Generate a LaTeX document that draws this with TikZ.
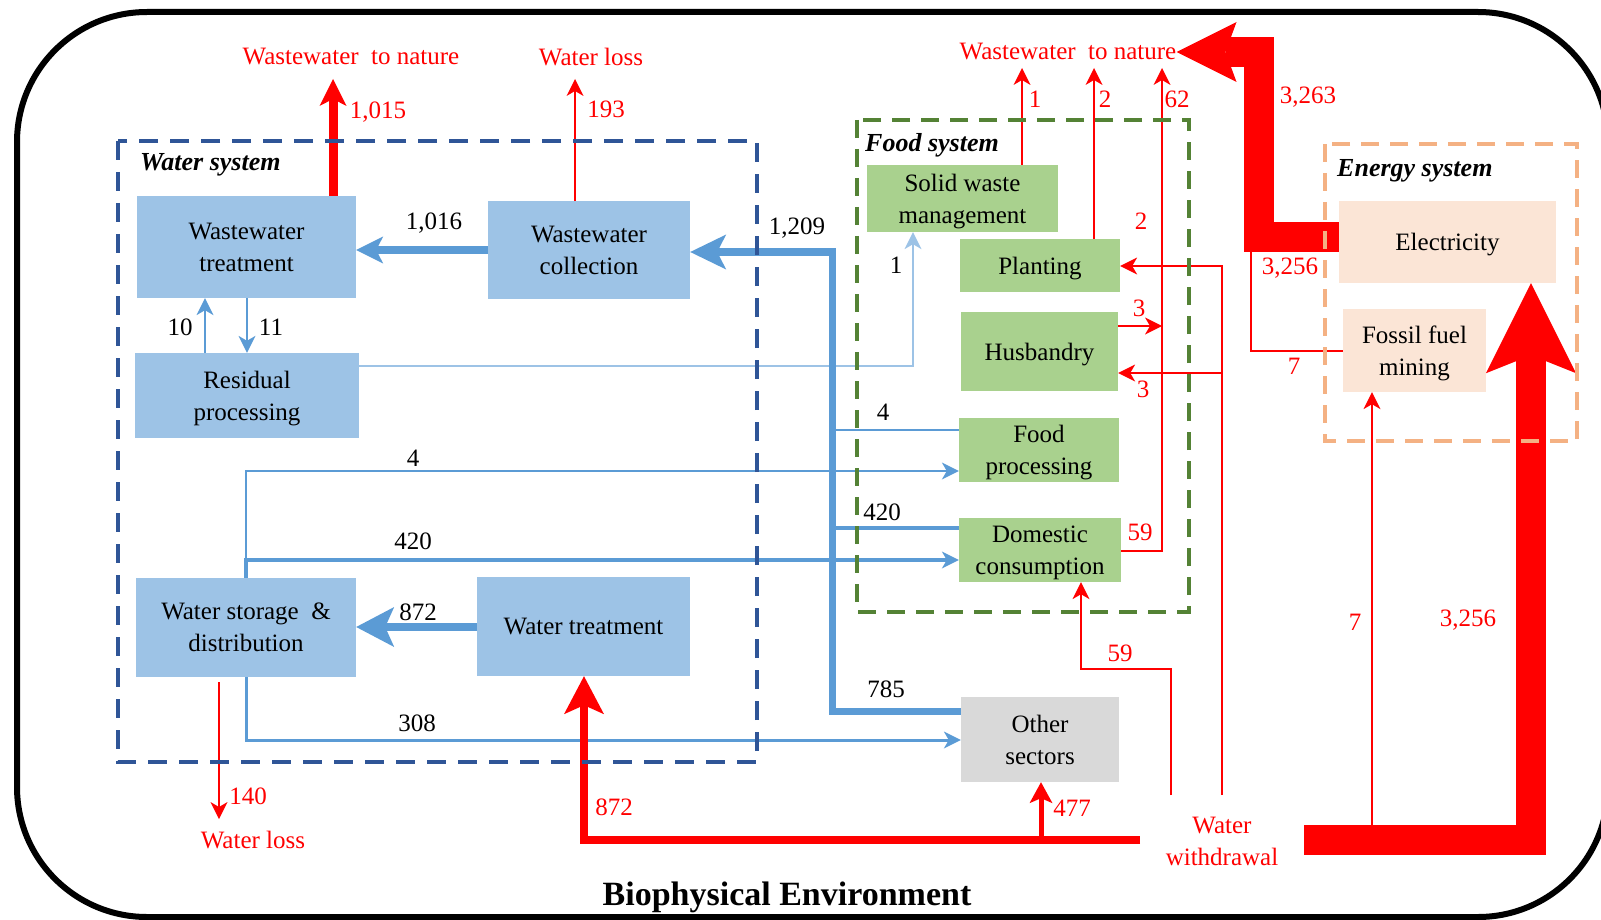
\documentclass[tikz,border=0pt]{standalone}
\usepackage{fontspec}
\setmainfont{Liberation Serif}
\usetikzlibrary{arrows.meta}

\definecolor{wbox}{HTML}{9DC3E6}
\definecolor{wline}{HTML}{5B9BD5}
\definecolor{wlight}{HTML}{9DC3E6}
\definecolor{fbox}{HTML}{A9D18E}
\definecolor{fdash}{HTML}{548235}
\definecolor{ebox}{HTML}{FBE5D6}
\definecolor{edash}{HTML}{F4B183}
\definecolor{obox}{HTML}{D9D9D9}
\definecolor{wdash}{HTML}{2F5597}
\definecolor{flowred}{HTML}{FF0000}

\newcommand\bodyfs{\fontsize{25}{32}\selectfont}
\newcommand\headfs{\fontsize{26}{30}\selectfont\bfseries\itshape}
\newcommand\titlefs{\fontsize{34}{40}\selectfont\bfseries}

\tikzset{
  box/.style={inner sep=0pt, align=center, font=\bodyfs, text=black, text depth=0pt},
  twoline/.style={text depth=-5pt},
  wbx/.style={box, fill=wbox},
  fbx/.style={box, fill=fbox},
  ebx/.style={box, fill=ebox},
  obx/.style={box, fill=obox},
  num/.style={inner sep=0pt, font=\bodyfs, text=black},
  rnum/.style={inner sep=0pt, font=\bodyfs, text=flowred},
  syshead/.style={inner sep=0pt, font=\headfs, anchor=base west},
  flow/.style={line join=miter, line cap=butt},
  bthin/.style={flow, draw=wline, line width=1.5pt},
  blight/.style={flow, draw=wlight, line width=1.6pt},
  bmid/.style={flow, draw=wline, line width=4pt},
  bmidb/.style={flow, draw=wline, line width=3pt},
  bthick/.style={flow, draw=wline, line width=7pt},
  bthicker/.style={flow, draw=wline, line width=8pt},
  rthin/.style={flow, draw=flowred, line width=1.3pt},
  rfive/.style={flow, draw=flowred, line width=5pt},
  reight/.style={flow, draw=flowred, line width=8pt},
  rnine/.style={flow, draw=flowred, line width=9pt},
  rwide/.style={flow, draw=flowred, line width=30pt},
  tipS/.style={-{Stealth[length=17pt,width=17pt,inset=5pt,line width=0pt]}},
  tipA/.style={-{Stealth[length=27pt,width=27pt,inset=7pt,line width=0pt]}},
  tipB/.style={-{Stealth[length=36pt,width=35pt,inset=9pt,line width=0pt]}},
  tipC/.style={-{Stealth[length=38pt,width=40pt,inset=9pt,line width=0pt]}},
  tipD/.style={-{Stealth[length=21pt,width=23pt,inset=5pt,line width=0pt]}},
  tipE/.style={-{Stealth[length=60pt,width=60pt,inset=11pt,line width=0pt]}},
  tipF/.style={-{Stealth[length=90pt,width=90pt,inset=18pt,line width=0pt]}},
  sysbox/.style={line width=3.5pt, dash pattern=on 19pt off 12pt},
}

\begin{document}
\begin{tikzpicture}[x=1pt,y=-1pt]
\useasboundingbox (0,0) rectangle (1601,920);

% ---------- process boxes ----------
\node[wbx, twoline, minimum width=219pt, minimum height=102pt] (wwt) at (246.5,247) {Wastewater\\treatment};
\node[wbx, twoline, minimum width=202pt, minimum height=98pt] (wwc) at (589,250) {Wastewater\\collection};
\node[wbx, twoline, minimum width=224pt, minimum height=85pt] (rp) at (247,395.5) {Residual\\processing};
\node[wbx, twoline, minimum width=220pt, minimum height=99pt] (wsd) at (246,627.5) {Water storage\enspace\&\\distribution};
\node[wbx, minimum width=213pt, minimum height=99pt] (wt) at (583.5,626.5) {Water treatment};

\node[fbx, twoline, minimum width=191pt, minimum height=67pt] (swm) at (962.5,198.5) {Solid waste\\management};
\node[fbx, minimum width=160pt, minimum height=53pt] (pl) at (1040,265.5) {Planting};
\node[fbx, minimum width=157pt, minimum height=79pt] (hu) at (1039.5,351.5) {Husbandry};
\node[fbx, twoline, minimum width=160pt, minimum height=64pt] (fp) at (1039,450) {Food\\processing};
\node[fbx, twoline, minimum width=162pt, minimum height=64pt] (dc) at (1040,550) {Domestic\\consumption};
\node[obx, twoline, minimum width=158pt, minimum height=85pt] (os) at (1040,739.5) {Other\\sectors};

\node[ebx, minimum width=217pt, minimum height=82pt] (el) at (1447.5,242) {Electricity};
\node[ebx, twoline, minimum width=143pt, minimum height=83pt] (ff) at (1414.5,350.5) {Fossil fuel\\mining};

% ---------- sinks and sources ----------
\node[rnum] (wtnA) at (351,57) {Wastewater\ \ to nature};
\node[rnum] (wlA) at (591,57) {Water loss};
\node[rnum] (wtnB) at (1068,52) {Wastewater\ \ to nature};
\node[rnum] (wlB) at (253,840) {Water loss};
\node[rnum, align=center] (ww) at (1222,841) {Water\\withdrawal};

\coordinate (tipWtnA) at (333,79);
\coordinate (tipWlA) at (575,79);
\coordinate (tipWlB) at (219,819);
\coordinate (srcWlB) at (219,682);

% ---------- blue flows in the water system ----------
\draw[bthick, tipA] (wwc.west) -- (wwc.west -| wwt.east);
\draw[bthin, tipS] (rp.north -| 205,0) -- (wwt.south -| 205,0);
\draw[bthin, tipS] (wwt.south -| 247,0) -- (rp.north -| 247,0);
\draw[blight, tipS] (rp.east |- 0,366) -| (913,0 |- swm.south);
\draw[bthicker, tipC] (wt.west |- 0,627) -- (wsd.east |- 0,627);

% collection of wastewater from the sectors
\draw[bthick, tipB] (os.west |- 0,711) -| (832,252) -- (wwc.east |- 0,252);
\draw[bmid] (dc.west |- 0,528) -- (832,528);
\draw[bthin] (fp.west |- 0,430) -- (832,430);

% distribution of tap water
\draw[bthin, tipS] (wsd.north -| 246,0) -- (246,471) -- (fp.west |- 0,471);
\draw[bmid, tipS] (wsd.north -| 246,0) -- (246,560) -- (dc.west |- 0,560);
\draw[bmidb, tipS] (wsd.south -| 246,0) -- (246,740) -- (os.west |- 0,740);

% ---------- red flows ----------
\draw[rnine, tipA] (wwt.north -| tipWtnA) -- (tipWtnA);
\draw[rthin, tipS] (wwc.north -| tipWlA) -- (tipWlA);
\draw[rthin, tipS] (srcWlB) -- (tipWlB);

\draw[reight, tipC] (1140,840) -| (584,0 |- wt.south);
\draw[rfive, tipD] (1041,840) -- (1041,0 |- os.south);

\draw[rthin, tipS] (swm.north -| 1022,0) -- (1022,68);
\draw[rthin, tipS] (pl.north -| 1094,0) -- (1094,68);
\draw[rthin, tipS] (dc.east |- 0,551) -| (1162,68);
\draw[rthin, tipS] (hu.east |- 0,326) -- (1162,326);
\draw[rthin, tipS] (1222,795) -- (1222,266) -- (pl.east |- 0,266);
\draw[rthin, tipS] (1222,373) -- (hu.east |- 0,373);
\draw[rthin, tipS] (1171,795) -- (1171,669) -- (1081,669) -- (1081,0 |- dc.south);

% energy system flows
\draw[rwide, tipE] (el.west |- 0,237) -- (1259,237) -- (1259,52) -- (wtnB.east |- 0,52);
\draw[rthin] (ff.west |- 0,351) -- (1251,351) -- (1251,252);
\draw[rwide, tipF] (1304,840) -- (1531,840) -- (1531,0 |- el.south);
\draw[rthin, tipS] (1372,825) -- (1372,0 |- ff.south);

% ---------- flow values ----------
\node[num] (n1016) at (434,223) {1,016};
\node[num] (n1209) at (797,228) {1,209};
\node[num] (n785) at (886,689) {785};
\node[num] (n4a) at (883,412) {4};
\node[num] (n420a) at (882,512) {420};
\node[num] (n1a) at (896,265) {1};
\node[num] (n10) at (180,327) {10};
\node[num] (n11) at (271,327) {11};
\node[num] (n4b) at (413,458) {4};
\node[num] (n420b) at (413,541) {420};
\node[num] (n308) at (417,723) {308};
\node[num] (n872b) at (418,612) {872};

\node[rnum] (r1015) at (378,112) {1,015};
\node[rnum] (r193) at (606,109) {193};
\node[rnum] (r140) at (248,796) {140};
\node[rnum] (r872) at (614,807) {872};
\node[rnum] (r477) at (1072,808) {477};
\node[rnum] (r1) at (1035,99) {1};
\node[rnum] (r2a) at (1105,99) {2};
\node[rnum] (r62) at (1177,99) {62};
\node[rnum] (r2b) at (1141,221) {2};
\node[rnum] (r3a) at (1139,308) {3};
\node[rnum] (r3b) at (1143,389) {3};
\node[rnum] (r59a) at (1140,532) {59};
\node[rnum] (r59b) at (1120,653) {59};
\node[rnum] (r3263) at (1308,97) {3,263};
\node[rnum] (r3256a) at (1290,268) {3,256};
\node[rnum] (r7a) at (1294,366) {7};
\node[rnum] (r7b) at (1355,622) {7};
\node[rnum] (r3256b) at (1468,620) {3,256};

% ---------- system boundaries ----------
\draw[sysbox, wdash] (118,141) rectangle (757,762);
\draw[sysbox, fdash, dash pattern=on 18pt off 11pt] (857,120) rectangle (1189,612);
\draw[sysbox, edash, dash pattern=on 18pt off 11pt] (1325,144) rectangle (1577,441);
\node[syshead] (hw) at (140,171) {Water system};
\node[syshead] (hf) at (865,152) {Food system};
\node[syshead] (he) at (1337,177) {Energy system};

% ---------- environment frame ----------
\draw[line width=6pt, rounded corners=130pt] (17,12) rectangle (1608,917);
\node[inner sep=0pt, font=\titlefs, anchor=base] (bio) at (787,905) {Biophysical Environment};
\end{tikzpicture}
\end{document}
